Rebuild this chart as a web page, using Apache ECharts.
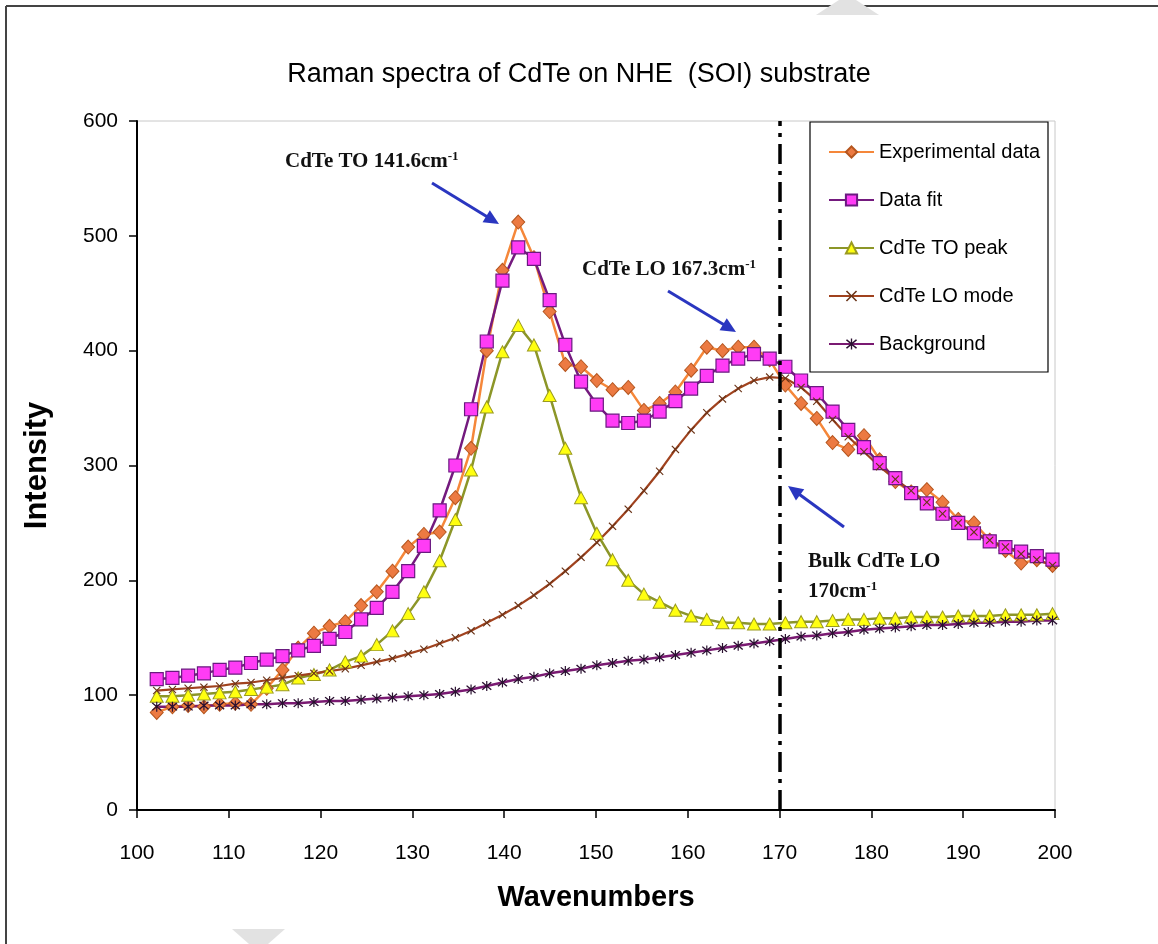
<!DOCTYPE html>
<html><head><meta charset="utf-8">
<script src="https://cdn.jsdelivr.net/npm/echarts@6/dist/echarts.min.js"></script>
<style>html,body{margin:0;padding:0;background:#fff}#c{width:1158px;height:944px}</style>
</head><body><div id="c"></div>
<script>
// ---- data ----
const wavenumbers = [102.15,103.86,105.57,107.29,109.00,110.71,112.42,114.13,115.85,117.56,119.27,120.98,122.69,124.41,126.12,127.83,129.54,131.25,132.97,134.68,136.39,138.10,139.81,141.53,143.24,144.95,146.66,148.37,150.09,151.80,153.51,155.22,156.93,158.65,160.36,162.07,163.78,165.49,167.21,168.92,170.63,172.34,174.05,175.77,177.48,179.19,180.90,182.61,184.33,186.04,187.75,189.46,191.17,192.89,194.60,196.31,198.02,199.73];
const experimental = [85,90,91,90,92,93,92,106,122,141,154,160,164,178,190,208,229,240,242,272,315,400,470,512,481,434,388,386,374,366,368,348,354,364,383,403,400,403,403,392,370,354,341,320,314,326,305,286,277,279,268,253,250,235,226,215,218,213];
const dataFit = [114,115,117,119,122,124,128,131,134,139,143,149,155,166,176,190,208,230,261,300,349,408,461,490,480,444,405,373,353,339,337,339,347,356,367,378,387,393,397,393,386,374,363,347,331,316,302,289,276,267,258,250,241,234,229,225,221,218];
const toPeak = [99,99,100,101,102,103,105,107,109,115,118,122,129,134,144,156,171,190,217,253,296,351,399,422,405,361,315,272,241,218,200,188,181,174,169,166,163,163,162,162,163,164,164,165,166,166,167,167,168,168,168,169,169,169,170,170,170,171];
const loMode = [104,105,106,107,108,110,111,113,115,117,119,121,123,126,129,132,136,140,145,150,156,163,170,178,187,197,208,220,233,247,262,278,295,314,331,346,358,367,374,377,376,368,356,340,325,312,299,288,278,268,258,250,242,235,229,223,218,213];
const background = [90,90,90,91,91,91,92,92,93,93,94,95,95,96,97,98,99,100,101,103,105,108,111,114,116,119,121,123,126,128,130,131,133,135,137,139,141,143,145,147,149,151,152,154,155,157,158,159,160,161,161,162,163,163,164,164,165,165];
const seriesNames = ['Experimental data','Data fit','CdTe TO peak','CdTe LO mode','Background'];
const bulkLO = 170;

const pairs = arr => wavenumbers.map((w, i) => [w, arr[i]]);
const XSYM = 'path://M1,0 L5,4 L9,0 L10,1 L6,5 L10,9 L9,10 L5,6 L1,10 L0,9 L4,5 L0,1 Z';
const STAR = 'path://M1,0 L5,4 L9,0 L10,1 L6,5 L10,9 L9,10 L5,6 L1,10 L0,9 L4,5 L0,1 Z M4.4,-1 L5.6,-1 L5.6,11 L4.4,11 Z';

function arrow(x1, y1, x2, y2, color) {
  const dx = x2 - x1, dy = y2 - y1, L = Math.hypot(dx, dy), ux = dx / L, uy = dy / L;
  const hl = 15, hw = 7, bx = x2 - ux * hl, by = y2 - uy * hl;
  return [
    {type: 'line', shape: {x1: x1, y1: y1, x2: bx + ux * 2, y2: by + uy * 2}, style: {stroke: color, lineWidth: 3}, z: 100},
    {type: 'polygon', shape: {points: [[x2, y2], [bx - uy * hw, by + ux * hw], [bx + uy * hw, by - ux * hw]]}, style: {fill: color}, z: 100}
  ];
}
const serif = '"Liberation Serif","Times New Roman",serif';
const sans = '"Liberation Sans",Arial,sans-serif';
function note(x, y, main, sup) {
  return {
    type: 'text', z: 100, x: x, y: y,
    style: {
      text: '{a|' + main + '}' + (sup ? '{s|' + sup + '}' : ''),
      textVerticalAlign: 'middle', verticalAlign: 'middle', align: 'left',
      rich: {
        a: {fontSize: 21, fontWeight: 'bold', fontFamily: serif, fill: '#111', lineHeight: 24},
        s: {fontSize: 13, fontWeight: 'bold', fontFamily: serif, fill: '#111', lineHeight: 13, verticalAlign: 'top'}
      }
    }
  };
}
const blue = '#2a36c0';

const chart = echarts.init(document.getElementById('c'));
chart.setOption({
  animation: false,
  backgroundColor: '#fff',
  title: {
    text: 'Raman spectra of CdTe on NHE  (SOI) substrate',
    left: 'center', top: 56,
    textStyle: {fontSize: 27, fontWeight: 'normal', fontFamily: sans, color: '#000'}
  },
  grid: {left: 137, right: 103, top: 121, bottom: 134, show: true, borderColor: '#c8c8c8', borderWidth: 1},
  legend: {
    data: seriesNames, orient: 'vertical', left: 823, top: 137,
    itemWidth: 45, itemHeight: 14, itemGap: 28,
    textStyle: {fontSize: 20, fontFamily: sans, color: '#000'}
  },
  xAxis: {
    type: 'value', min: 100, max: 200, interval: 10,
    name: 'Wavenumbers', nameLocation: 'middle', nameGap: 73,
    nameTextStyle: {fontSize: 29, fontWeight: 'bold', fontFamily: sans, color: '#000'},
    axisLine: {lineStyle: {color: '#000', width: 2}},
    axisTick: {show: true, length: 8, inside: false, lineStyle: {color: '#000', width: 1.5}},
    axisLabel: {fontSize: 21, fontFamily: sans, color: '#000', margin: 33},
    splitLine: {show: false}
  },
  yAxis: {
    type: 'value', min: 0, max: 600, interval: 100,
    name: 'Intensity', nameLocation: 'middle', nameGap: 84,
    nameTextStyle: {fontSize: 31, fontWeight: 'bold', fontFamily: sans, color: '#000'},
    axisLine: {show: true, lineStyle: {color: '#000', width: 2}},
    axisTick: {show: true, length: 8, lineStyle: {color: '#000', width: 1.5}},
    axisLabel: {fontSize: 21, fontFamily: sans, color: '#000', margin: 19},
    splitLine: {show: false}
  },
  series: [
    {name: seriesNames[0], type: 'line', data: pairs(experimental), symbol: 'diamond', symbolSize: [13, 14],
      lineStyle: {color: '#f5873a', width: 2.5}, itemStyle: {color: '#ec7a42', borderColor: '#b5561f', borderWidth: 1}},
    {name: seriesNames[1], type: 'line', data: pairs(dataFit), symbol: 'rect', symbolSize: 13,
      lineStyle: {color: '#741a7e', width: 2.5}, itemStyle: {color: '#ff3cf5', borderColor: '#6a1a80', borderWidth: 1.2}},
    {name: seriesNames[2], type: 'line', data: pairs(toPeak), symbol: 'triangle', symbolSize: [13, 12],
      lineStyle: {color: '#8c9628', width: 2.5}, itemStyle: {color: '#ffff10', borderColor: '#9a9a20', borderWidth: 1}},
    {name: seriesNames[3], type: 'line', data: pairs(loMode), symbol: XSYM, symbolSize: 8,
      lineStyle: {color: '#a0421e', width: 2.2}, itemStyle: {color: '#6a3418'}},
    {name: seriesNames[4], type: 'line', data: pairs(background), symbol: STAR, symbolSize: 10,
      lineStyle: {color: '#7a1a72', width: 2.5}, itemStyle: {color: '#2a1030'},
      markLine: {silent: true, symbol: ['none', 'none'], label: {show: false},
        lineStyle: {color: '#000', width: 3.5, type: [20, 7, 4, 7]},
        data: [{xAxis: bulkLO}]}}
  ],
  graphic: [
    {type: 'line', shape: {x1: 6, y1: 6, x2: 1158, y2: 6}, style: {stroke: '#444', lineWidth: 2}},
    {type: 'line', shape: {x1: 6, y1: 6, x2: 6, y2: 944}, style: {stroke: '#444', lineWidth: 2}},
    {type: 'polygon', shape: {points: [[816, 15], [879, 15], [856, 0], [839, 0]]}, style: {fill: '#e2e2e2'}},
    {type: 'polygon', shape: {points: [[232, 929], [285, 929], [268, 944], [249, 944]]}, style: {fill: '#e2e2e2'}},
    {type: 'rect', shape: {x: 810, y: 122, width: 238, height: 250}, style: {fill: '#fff', stroke: '#000', lineWidth: 1.2}, z: 1},
    note(285, 162, 'CdTe TO 141.6cm', '-1'),
    note(582, 270, 'CdTe LO 167.3cm', '-1'),
    note(808, 562, 'Bulk CdTe LO'),
    note(808, 592, '170cm', '-1'),
    ...arrow(432, 183, 499, 224, blue),
    ...arrow(668, 291, 736, 332, blue),
    ...arrow(844, 527, 788, 486, blue)
  ]
});
</script></body></html>
